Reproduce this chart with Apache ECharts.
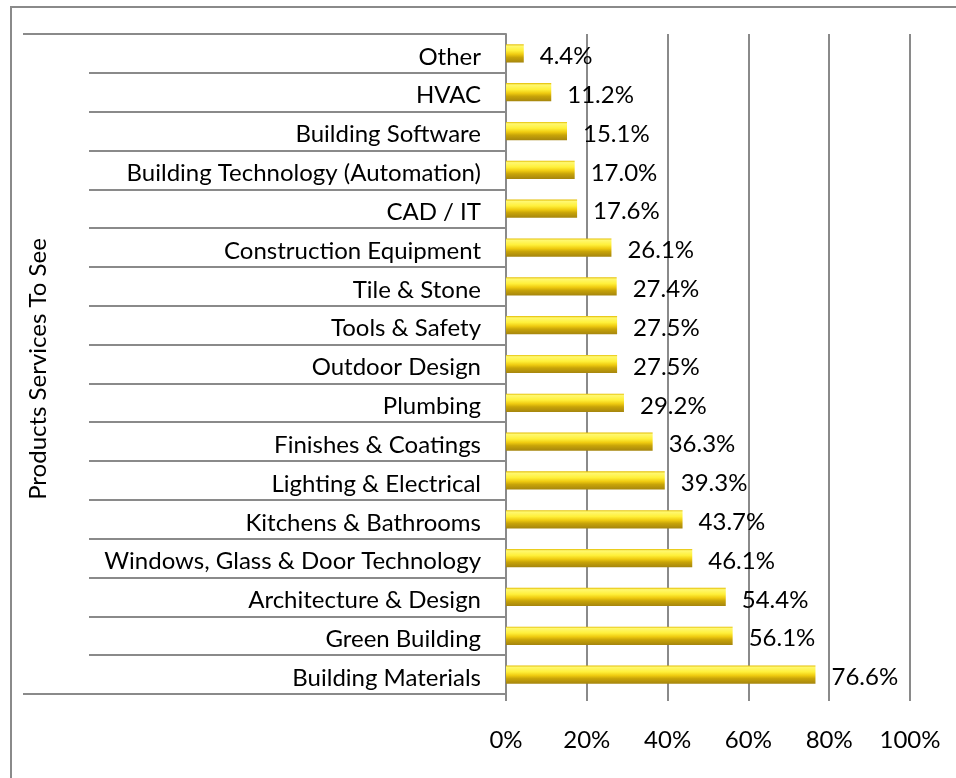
<!DOCTYPE html>
<html>
<head>
<meta charset="utf-8">
<script src="https://cdn.jsdelivr.net/npm/echarts@6/dist/echarts.min.js"></script>
<style>
  html, body { margin: 0; padding: 0; background: #fff; }
  #chart { width: 956px; height: 778px; }
</style>
</head>
<body>
<div id="chart"></div>
<script>
// Product / service categories, listed top to bottom
const categories = [
  'Other',
  'HVAC',
  'Building Software',
  'Building Technology (Automation)',
  'CAD / IT',
  'Construction Equipment',
  'Tile & Stone',
  'Tools & Safety',
  'Outdoor Design',
  'Plumbing',
  'Finishes & Coatings',
  'Lighting & Electrical',
  'Kitchens & Bathrooms',
  'Windows, Glass & Door Technology',
  'Architecture & Design',
  'Green Building',
  'Building Materials'
];

// Share of respondents (%)
const shares = [4.4, 11.2, 15.1, 17.0, 17.6, 26.1, 27.4, 27.5, 27.5, 29.2, 36.3, 39.3, 43.7, 46.1, 54.4, 56.1, 76.6];

// Value axis ticks (%)
const xTicks = [0, 20, 40, 60, 80, 100];

const axisTitle = 'Products Services To See';

const FONT = 'Lato, "Open Sans", sans-serif';
const FS = 24;
const LINE = '#8a8a8a';

const gridTop = 34, gridBottom = 84, gridLeft = 506, gridRight = 46;
const H = 778;

const chart = echarts.init(document.getElementById('chart'), null, { renderer: 'canvas' });

const barFill = new echarts.graphic.LinearGradient(0, 0, 0, 1, [
  { offset: 0.00, color: '#E2BC00' },
  { offset: 0.10, color: '#FFF870' },
  { offset: 0.35, color: '#FFF03A' },
  { offset: 0.55, color: '#EFCB10' },
  { offset: 0.72, color: '#C8A408' },
  { offset: 1.00, color: '#A5850E' }
]);

chart.setOption({
  animation: false,
  backgroundColor: '#ffffff',
  textStyle: { fontFamily: FONT },
  grid: { left: gridLeft, right: gridRight, top: gridTop, bottom: gridBottom, containLabel: false },
  xAxis: {
    type: 'value',
    min: xTicks[0],
    max: xTicks[xTicks.length - 1],
    interval: xTicks[1] - xTicks[0],
    axisLine: { show: false },
    axisTick: { show: true, length: 7, lineStyle: { color: LINE, width: 2 } },
    splitLine: { show: true, lineStyle: { color: LINE, width: 2 } },
    axisLabel: {
      margin: 34,
      color: '#000',
      fontSize: FS,
      fontFamily: FONT,
      formatter: v => v + '%'
    }
  },
  yAxis: {
    type: 'category',
    data: categories,
    inverse: true,
    name: axisTitle,
    nameLocation: 'middle',
    nameGap: 456,
    nameRotate: 90,
    nameTextStyle: { color: '#000', fontSize: FS, fontFamily: FONT, padding: [0, 10, 0, 0] },
    axisLine: { show: true, lineStyle: { color: LINE, width: 2 } },
    axisTick: { show: true, length: 417, lineStyle: { color: LINE, width: 2 } },
    axisLabel: {
      margin: 25,
      formatter: v => '{c|' + v + '}',
      rich: { c: { color: '#000', fontSize: FS, fontFamily: FONT, padding: [7, 0, 0, 0] } }
    },
    splitLine: { show: false }
  },
  series: [{
    type: 'bar',
    data: shares,
    barWidth: '47%',
    itemStyle: { color: barFill },
    label: {
      show: true,
      position: 'right',
      distance: 16,
      offset: [0, 3],
      color: '#000',
      fontSize: FS,
      fontFamily: FONT,
      formatter: p => p.value.toFixed(1) + '%'
    }
  }],
  graphic: [
    // outer chart frame (top and left edges visible)
    {
      type: 'rect',
      shape: { x: 11, y: 7, width: 1200, height: 1200 },
      style: { fill: null, stroke: LINE, lineWidth: 2 },
      silent: true, z: -1
    },
    // longer separators at the top and bottom of the category block
    {
      type: 'line',
      shape: { x1: 23, y1: gridTop, x2: gridLeft, y2: gridTop },
      style: { stroke: LINE, lineWidth: 2 }, silent: true
    },
    {
      type: 'line',
      shape: { x1: 23, y1: H - gridBottom, x2: gridLeft, y2: H - gridBottom },
      style: { stroke: LINE, lineWidth: 2 }, silent: true
    }
  ]
});
</script>
</body>
</html>
